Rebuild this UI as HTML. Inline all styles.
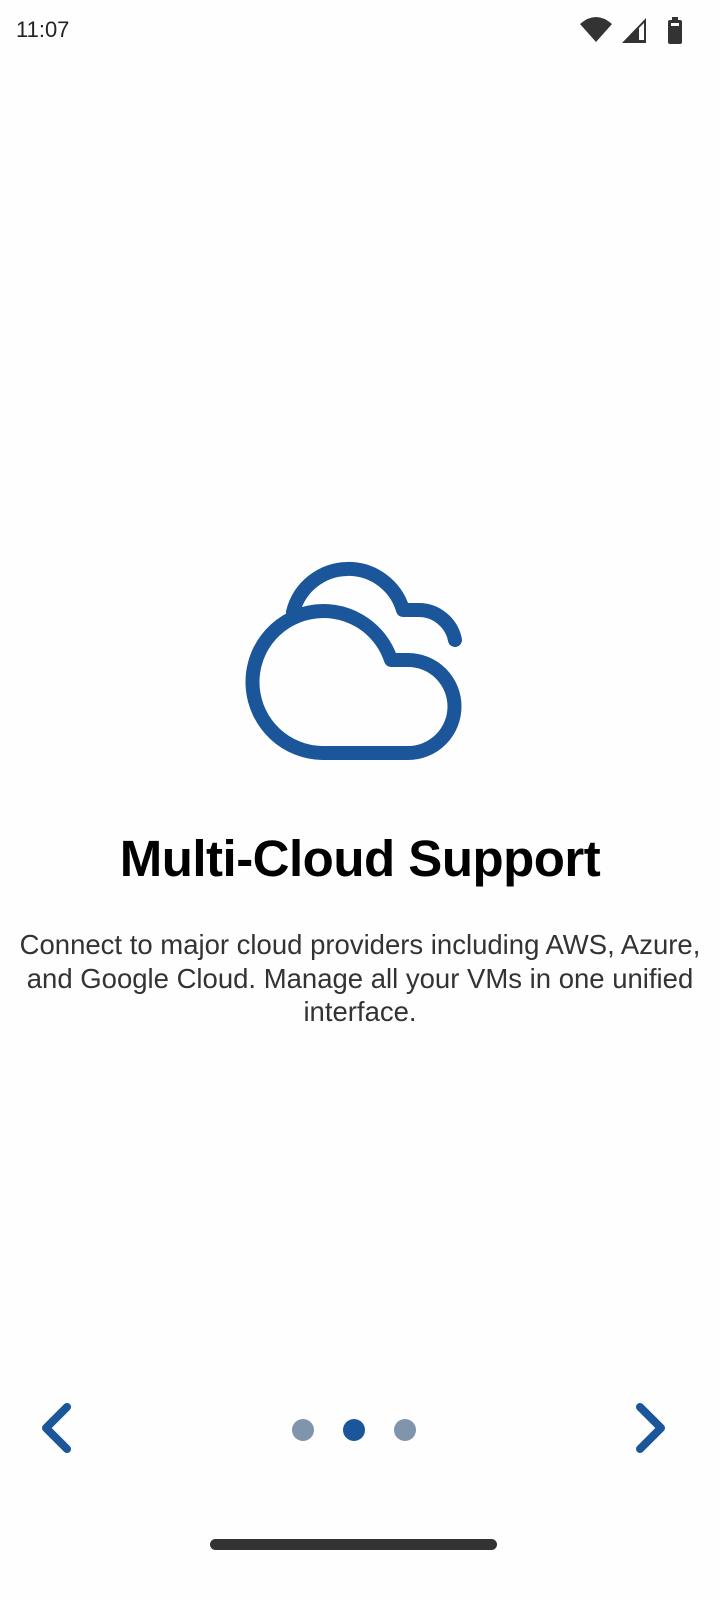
<!DOCTYPE html>
<html><head><style>
body{margin:0;width:720px;height:1600px;background:#fefefe;font-family:"Liberation Sans",sans-serif;position:relative;overflow:hidden}
.t{position:absolute;left:16px;top:17px;font-size:22px;color:#222}
h1{position:absolute;top:829px;left:0;width:720px;margin:0;text-align:center;font-size:51px;font-weight:bold;color:#000;letter-spacing:-0.5px}
p{position:absolute;top:928px;left:0;width:720px;margin:0;text-align:center;font-size:27.5px;line-height:33.5px;color:#333}
.d{position:absolute;top:1419px;width:22px;height:22px;border-radius:50%;background:#8094ac}
.bar{position:absolute;left:210px;top:1539px;width:287px;height:11px;border-radius:6px;background:#333}
</style></head><body>
<div class="t">11:07</div>
<svg style="position:absolute;left:0;top:0" width="720" height="60">
<path d="M580 24 Q596 10 612 24 L596 42 Z" fill="#333"/>
<path d="M622 43 L646 18 L646 43 Z" fill="#333"/><path d="M639 28 L639 40 L644 40 L644 23 Z" fill="#fff"/>
<rect x="668" y="20" width="14" height="24" rx="2" fill="#333"/><rect x="672" y="17" width="6" height="4" fill="#333"/><rect x="671" y="23" width="8" height="3" fill="#fff"/>
</svg>
<svg style="position:absolute;left:0;top:0" width="720" height="800" fill="none" stroke="#1a5699" stroke-width="14" stroke-linecap="round" stroke-linejoin="round">
<path d="M293 612 A57 57 0 0 1 403 610 L418 610 A37 37 0 0 1 455 640"/>
<path d="M408 753 L322 753 A71 71 0 1 1 391 660 L408 660 A46.5 46.5 0 0 1 408 753 Z"/>
</svg>
<h1>Multi-Cloud Support</h1>
<p>Connect to major cloud providers including AWS, Azure,<br>and Google Cloud. Manage all your VMs in one unified<br>interface.</p>
<svg style="position:absolute;left:0;top:1390px" width="720" height="80" fill="none" stroke="#1a5699" stroke-width="8" stroke-linecap="round" stroke-linejoin="round">
<path d="M67 17 L46 38 L67 59"/><path d="M640 17 L661 38 L640 59"/>
</svg>
<div class="d" style="left:292px"></div>
<div class="d" style="left:343px;background:#1a5699"></div>
<div class="d" style="left:394px"></div>
<div class="bar"></div>
</body></html>
